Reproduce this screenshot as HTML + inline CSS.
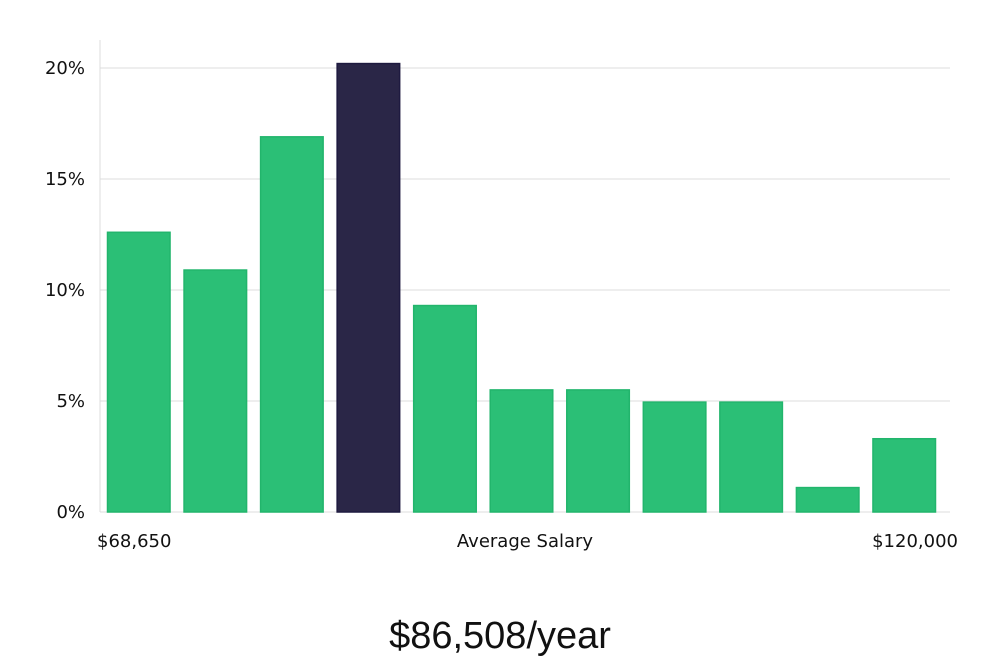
<!DOCTYPE html>
<html><head><meta charset="utf-8"><style>
html,body{margin:0;padding:0;background:#fff;}
svg{display:block;}
text{font-family:"DejaVu Sans","Liberation Sans",sans-serif;fill:#111;}
</style></head><body>
<svg id="chart" width="1000" height="660" viewBox="0 0 1000 660">
<g id="grid"></g>
<g id="bars"></g>
<g id="yticks"></g>
<line x1="100" y1="40" x2="100" y2="512" stroke="#ddd" stroke-width="1"/>
<text x="97" y="547" font-size="18">$68,650</text>
<text x="525" y="547" font-size="18" text-anchor="middle">Average Salary</text>
<text x="958" y="547" font-size="18" text-anchor="end">$120,000</text>
<text x="500" y="648" font-size="38" text-anchor="middle" style="font-family:'Liberation Sans',sans-serif;font-weight:300;fill:#111">$86,508/year</text>
</svg>
<script>
const categories = ["b1","b2","b3","b4","b5","b6","b7","b8","b9","b10","b11"];
const values = [12.6,10.9,16.9,20.2,9.3,5.5,5.5,4.95,4.95,1.1,3.3];
const highlightIndex = [3];
const yTicks = [0,5,10,15,20];
const yTickLabels = ["0%","5%","10%","15%","20%"];
const NS="http://www.w3.org/2000/svg";
const x0=104, x1=946, y0=512, yPerUnit=(512-68)/20;
function yScale(v){return y0 - v*yPerUnit;}
const step=(x1-x0)/categories.length;
function xScale(i){return x0 + i*step;}
const grid=document.getElementById('grid'), yt=document.getElementById('yticks'), bars=document.getElementById('bars');
yTicks.forEach((t,i)=>{
  const l=document.createElementNS(NS,'line');
  
  
  l.setAttribute('x1',100);l.setAttribute('x2',950);
  l.setAttribute('y1',yScale(t));l.setAttribute('y2',yScale(t));
  l.setAttribute('stroke','#e3e3e3');l.setAttribute('stroke-width','1.2');
  grid.appendChild(l);
  const tx=document.createElementNS(NS,'text');
  
  
  tx.setAttribute('x',85);tx.setAttribute('y',yScale(t)+6);
  tx.setAttribute('text-anchor','end');tx.setAttribute('font-size','18');
  tx.textContent=yTickLabels[i];
  yt.appendChild(tx);
});
values.forEach((v,i)=>{
  const r=document.createElementNS(NS,'rect');
  
  
  const hi=highlightIndex.includes(i);
  r.setAttribute('x',xScale(i)+3.5);
  r.setAttribute('width',step-14);
  r.setAttribute('y',yScale(v));
  r.setAttribute('height',y0-yScale(v));
  r.setAttribute('fill',hi?'#2a2647':'#2bbf76');
  r.setAttribute('stroke',hi?'#1e1a40':'#22b56c');
  r.setAttribute('stroke-width','1.5');
  bars.appendChild(r);
});
</script>
</body></html>
